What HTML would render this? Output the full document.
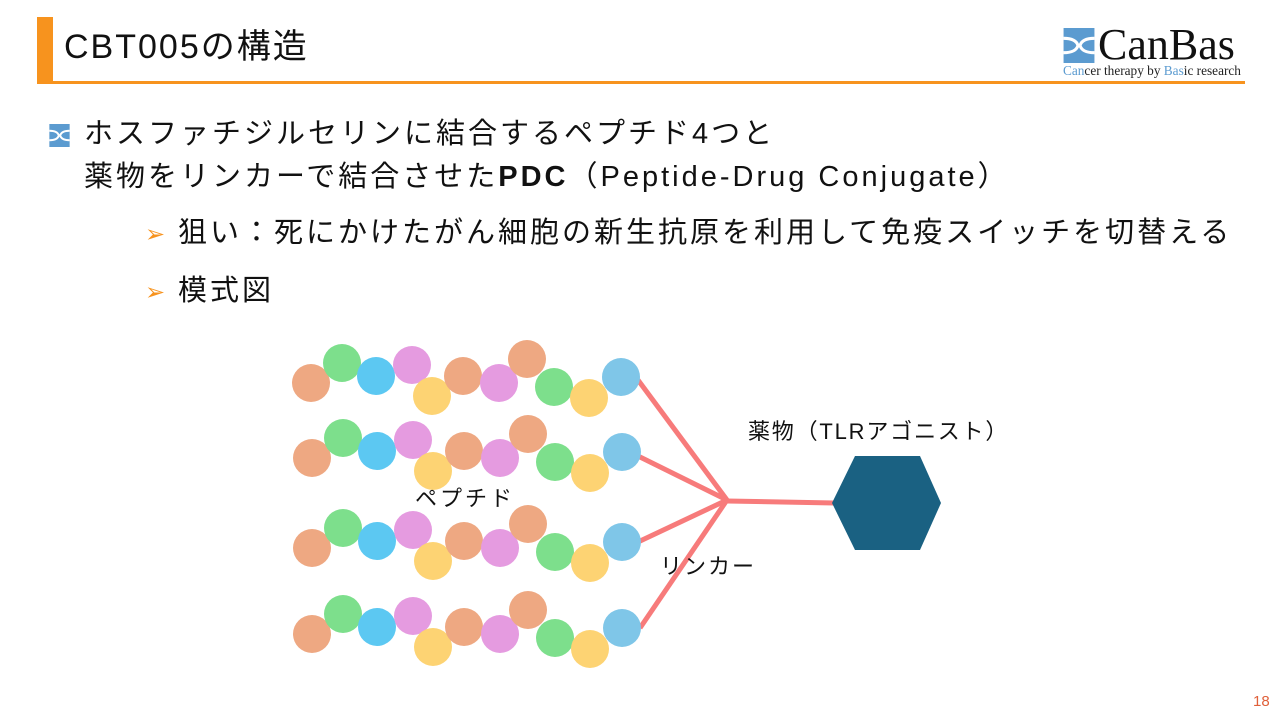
<!DOCTYPE html>
<html><head><meta charset="utf-8"><style>
body{margin:0;width:1280px;height:720px;background:#fff;position:relative;overflow:hidden;font-family:"Liberation Sans","Noto Sans CJK JP",sans-serif;color:#111}
.t{position:absolute;white-space:nowrap}
.b{font-size:29px;letter-spacing:3px;line-height:36px}
.ar{color:#f7931e;font-size:24px;display:inline-block;width:33px}
</style></head><body>
<div style="position:absolute;left:37px;top:17px;width:16px;height:66px;background:#f7931e"></div>
<div style="position:absolute;left:37px;top:81px;width:1208px;height:3px;background:#f7931e"></div>
<div class="t" style="left:64px;top:26px;font-size:34px;letter-spacing:2px;line-height:42px">CBT005の構造</div>
<svg style="position:absolute;left:1062px;top:28px" width="34" height="35" viewBox="0 0 30 34"><rect width="30" height="34" fill="#5b9bd0"/><path d="M0 10 Q12 10 14 17 Q12 24 0 24 M30 10 Q18 10 16 17 Q18 24 30 24" stroke="#fff" stroke-width="3" fill="none"/></svg>
<div class="t" style="left:1098px;top:22px;font-family:'Liberation Serif',serif;font-size:44px;line-height:46px;color:#111">CanBas</div>
<div class="t" style="left:1063px;top:63px;font-family:'Liberation Serif',serif;font-size:13.3px;color:#222"><span style="color:#5b9bd0">Can</span>cer therapy by <span style="color:#5b9bd0">Bas</span>ic research</div>
<svg style="position:absolute;left:47px;top:124px" width="25" height="23" viewBox="0 0 30 34"><rect width="30" height="34" fill="#5b9bd0"/><path d="M0 10 Q12 10 14 17 Q12 24 0 24 M30 10 Q18 10 16 17 Q18 24 30 24" stroke="#fff" stroke-width="3" fill="none"/></svg>
<div class="t b" style="left:84px;top:116px">ホスファチジルセリンに結合するペプチド4つと</div>
<div class="t b" style="left:84px;top:159px">薬物をリンカーで結合させた<b>PDC</b>（Peptide-Drug Conjugate）</div>
<div class="t b" style="left:145px;top:215px"><span class="ar">➢</span>狙い：死にかけたがん細胞の新生抗原を利用して免疫スイッチを切替える</div>
<div class="t b" style="left:145px;top:273px"><span class="ar">➢</span>模式図</div>
<svg style="position:absolute;left:0;top:0" width="1280" height="720">
<defs><g id="p">
<circle cx="311" cy="383" r="19" fill="#eea882"/>
<circle cx="342" cy="363" r="19" fill="#7ddf8c"/>
<circle cx="376" cy="376" r="19" fill="#5cc8f2"/>
<circle cx="412" cy="365" r="19" fill="#e59be0"/>
<circle cx="432" cy="396" r="19" fill="#fdd373"/>
<circle cx="463" cy="376" r="19" fill="#eea882"/>
<circle cx="499" cy="383" r="19" fill="#e59be0"/>
<circle cx="527" cy="359" r="19" fill="#eea882"/>
<circle cx="554" cy="387" r="19" fill="#7ddf8c"/>
<circle cx="589" cy="398" r="19" fill="#fdd373"/>
<circle cx="621" cy="377" r="19" fill="#7fc6e8"/>
</g></defs>
<g stroke="#f77b7b" stroke-width="5" fill="none">
<line x1="638" y1="380" x2="727" y2="500"/>
<line x1="638" y1="456" x2="727" y2="500"/>
<line x1="638" y1="542" x2="727" y2="500"/>
<line x1="640" y1="628" x2="727" y2="500"/>
<line x1="727" y1="501" x2="834" y2="503"/>
</g>
<use href="#p"/>
<use href="#p" transform="translate(1,75)"/>
<use href="#p" transform="translate(1,165)"/>
<use href="#p" transform="translate(1,251)"/>
<polygon points="832,503 855,456 920,456 941,503 920,550 855,550" fill="#1a6182"/>
</svg>
<div class="t" style="left:415px;top:481px;font-size:22px;letter-spacing:3px">ペプチド</div>
<div class="t" style="left:660px;top:549px;font-size:22px;letter-spacing:2px">リンカー</div>
<div class="t" style="left:748px;top:414px;font-size:22px;letter-spacing:1.8px">薬物（TLRアゴニスト）</div>
<div class="t" style="left:1253px;top:693px;font-size:15px;color:#e0603a">18</div>
</body></html>
